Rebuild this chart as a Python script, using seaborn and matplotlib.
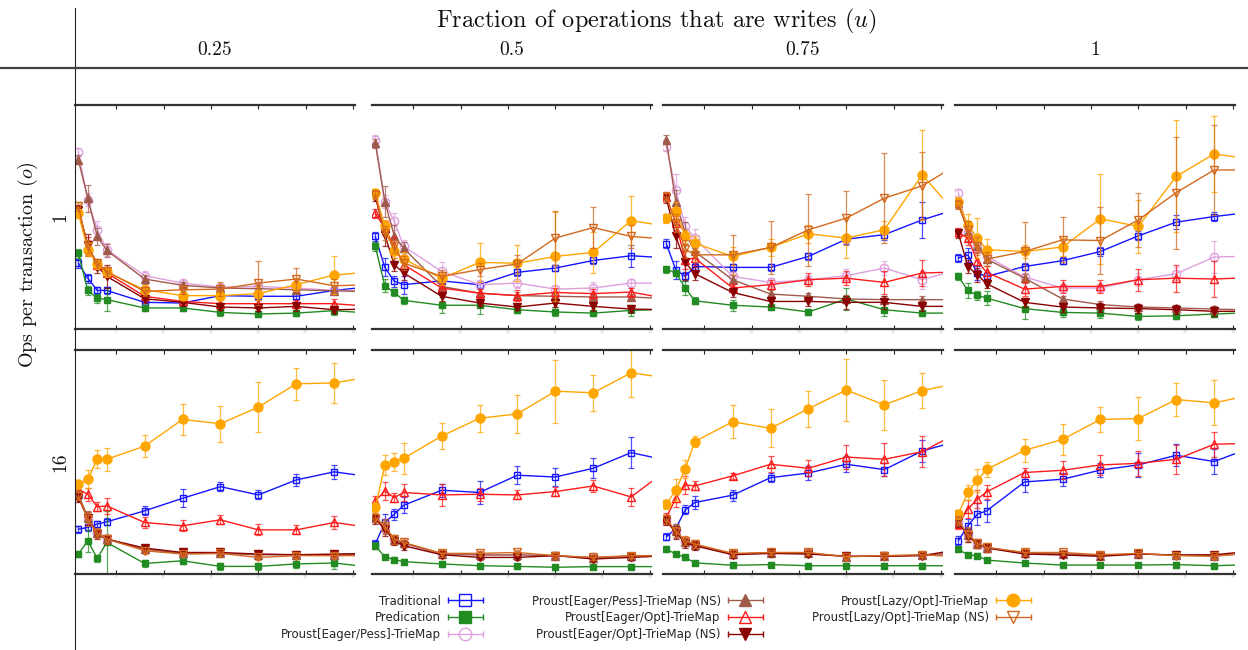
import matplotlib
matplotlib.use('Agg')
import matplotlib.pyplot as plt
import seaborn as sns
from matplotlib.lines import Line2D
from matplotlib.legend_handler import HandlerBase

threads = [1, 2, 3, 4, 8, 12, 16, 20, 24, 28, 32]
write_fracs = ['0.25', '0.5', '0.75', '1']
ops_per_tx = ['1', '16']

labels = ['Traditional', 'Predication', 'Proust[Eager/Pess]-TrieMap',
          'Proust[Eager/Pess]-TrieMap (NS)', 'Proust[Eager/Opt]-TrieMap',
          'Proust[Eager/Opt]-TrieMap (NS)', 'Proust[Lazy/Opt]-TrieMap',
          'Proust[Lazy/Opt]-TrieMap (NS)']
colors = ['#1414ff', '#228b22', '#dda0dd', '#a05a4b', '#ff1a1a', '#8b0000', '#ffa500', '#d2691e']
markers = ['s', 's', 'o', '^', '^', 'v', 'o', 'v']
filled = [False, True, False, True, False, True, True, False]

# one list per panel: o=1 (u=0.25, 0.5, 0.75, 1), then o=16 (same order)
traditional = [
    [29.4, 22.7, 17.2, 17.2, 11.9, 11.6, 14.9, 14.6, 14.6, 17.2, 19.0],
    [41.3, 27.5, 21.3, 19.8, 21.5, 19.8, 25.3, 27.2, 30.6, 32.7, 31.7],
    [38.0, 26.5, 23.5, 27.9, 27.5, 27.5, 32.4, 40.1, 42.1, 48.7, 54.0],
    [31.7, 33.1, 25.0, 23.5, 27.9, 30.5, 34.6, 41.6, 47.7, 50.2, 52.2],
    [20.0, 20.8, 22.3, 23.3, 28.2, 33.8, 39.0, 35.3, 42.0, 45.6, 43.3],
    [13.4, 23.0, 26.7, 30.7, 37.4, 36.4, 44.1, 43.3, 47.2, 54.2, 50.5],
    [16.6, 20.3, 28.6, 31.9, 35.2, 43.0, 45.1, 49.0, 46.6, 54.9, 59.7],
    [14.8, 21.5, 26.7, 28.2, 41.1, 42.3, 46.4, 48.7, 53.0, 50.2, 56.6],
]
predication = [
    [33.9, 17.2, 13.8, 13.1, 9.4, 9.4, 7.4, 6.7, 7.1, 8.2, 7.0],
    [36.9, 19.3, 16.3, 12.8, 10.6, 10.6, 8.6, 7.6, 7.1, 8.3, 8.8],
    [26.7, 25.0, 18.3, 12.6, 10.6, 9.8, 7.6, 13.4, 8.6, 7.1, 7.1],
    [23.5, 17.2, 15.0, 13.8, 9.1, 7.4, 7.1, 5.6, 5.9, 6.7, 7.3],
    [8.9, 14.8, 7.0, 14.1, 4.7, 5.9, 3.4, 3.4, 4.5, 4.9, 3.0],
    [12.6, 7.7, 6.4, 5.5, 4.5, 3.7, 3.4, 3.0, 3.3, 3.3, 3.3],
    [11.1, 8.9, 7.4, 5.0, 3.9, 4.2, 3.7, 3.7, 3.7, 3.7, 3.7],
    [11.1, 8.5, 8.2, 6.2, 4.9, 4.0, 4.0, 4.0, 4.2, 3.7, 4.2],
]
eager_pess = [
    [79.0, 57.7, 44.3, 35.4, 23.8, 20.5, 18.7, 19.0, 18.3, 17.2, 17.2],
    [84.4, 56.9, 48.0, 36.9, 25.7, 19.8, 20.5, 17.8, 18.3, 20.5, 20.5],
    [81.4, 62.1, 45.8, 40.6, 23.5, 20.8, 22.0, 23.8, 27.2, 22.0, 26.8],
    [60.6, 43.5, 36.9, 32.4, 23.2, 18.3, 18.3, 22.0, 24.7, 32.1, 32.6],
    [35.0, 25.0, 18.3, 15.5, 11.0, 9.2, 9.2, 8.8, 8.6, 8.6, 8.6],
    [25.0, 20.5, 15.2, 13.5, 9.0, 8.5, 8.5, 8.0, 7.5, 7.8, 8.0],
    [24.0, 19.0, 14.3, 13.0, 9.0, 9.2, 9.2, 8.0, 8.0, 8.4, 9.0],
    [23.3, 17.5, 13.6, 11.8, 9.3, 9.0, 8.3, 9.0, 8.4, 8.2, 9.2],
]
eager_pess_ns = [
    [75.5, 58.4, 41.3, 35.1, 22.3, 19.5, 18.3, 18.0, 17.5, 17.1, 16.5],
    [82.9, 56.9, 41.6, 36.0, 19.0, 16.0, 14.9, 14.6, 14.3, 14.3, 13.5],
    [84.4, 56.9, 42.8, 34.6, 22.0, 15.6, 14.6, 13.4, 13.1, 13.1, 13.1],
    [56.2, 43.5, 36.9, 31.2, 22.7, 13.4, 10.9, 9.8, 9.4, 8.9, 8.5],
    [35.6, 25.2, 18.5, 15.6, 11.1, 9.2, 9.2, 8.6, 8.6, 8.6, 8.6],
    [25.0, 21.0, 15.2, 13.8, 9.0, 8.5, 8.5, 8.2, 7.2, 8.0, 8.2],
    [24.2, 19.0, 14.3, 13.0, 8.9, 9.4, 9.2, 7.8, 8.0, 8.4, 9.5],
    [23.4, 17.5, 13.6, 11.8, 9.4, 9.0, 8.2, 9.0, 8.4, 8.2, 9.3],
]
eager_opt = [
    [53.2, 36.9, 28.7, 25.0, 14.6, 12.3, 11.3, 11.3, 11.3, 11.3, 10.0],
    [51.7, 45.0, 36.9, 28.7, 18.3, 16.0, 14.9, 16.3, 15.8, 16.5, 13.4],
    [59.1, 47.3, 30.9, 31.7, 18.3, 19.8, 22.0, 22.7, 20.8, 25.0, 25.5],
    [43.1, 40.6, 30.2, 25.3, 17.8, 19.0, 19.0, 22.0, 22.7, 22.3, 23.0],
    [37.8, 35.6, 30.0, 30.4, 23.0, 21.5, 24.2, 19.7, 19.7, 23.0, 20.6],
    [32.6, 37.1, 34.1, 36.4, 35.3, 35.6, 35.3, 36.8, 39.3, 34.4, 47.1],
    [25.2, 33.8, 39.8, 39.3, 43.8, 49.0, 47.2, 52.2, 51.2, 54.6, 63.5],
    [22.3, 28.9, 33.4, 36.7, 45.3, 46.3, 48.7, 49.4, 51.2, 57.9, 58.4],
]
eager_opt_ns = [
    [53.2, 37.6, 27.9, 23.5, 13.5, 11.9, 9.8, 9.4, 10.1, 8.6, 8.9],
    [59.1, 42.1, 28.7, 25.0, 14.6, 11.6, 9.8, 11.6, 10.1, 8.9, 8.6],
    [58.4, 41.3, 29.7, 24.7, 16.3, 12.3, 12.3, 11.9, 11.9, 10.1, 10.1],
    [42.8, 27.9, 24.2, 20.2, 11.9, 9.8, 9.4, 9.1, 8.6, 7.9, 7.9],
    [34.1, 24.9, 17.8, 15.6, 11.6, 9.6, 9.6, 8.9, 8.6, 8.9, 9.2],
    [24.5, 20.0, 14.8, 12.6, 8.6, 7.4, 7.4, 8.2, 6.7, 7.4, 8.2],
    [23.7, 18.5, 13.8, 12.6, 8.6, 9.2, 8.9, 7.9, 7.9, 8.2, 11.0],
    [23.0, 17.1, 13.4, 11.6, 8.9, 8.5, 7.9, 8.9, 8.5, 8.6, 10.2],
]
lazy_opt = [
    [51.7, 35.4, 29.0, 25.3, 17.5, 14.9, 14.9, 15.8, 19.8, 24.1, 25.5],
    [60.6, 45.8, 34.6, 31.2, 22.6, 29.7, 29.4, 32.4, 34.2, 48.4, 45.7],
    [49.5, 52.5, 41.3, 38.3, 32.4, 36.4, 42.5, 40.6, 44.3, 68.8, 49.6],
    [56.9, 46.5, 40.6, 35.4, 34.6, 36.6, 49.2, 45.8, 68.1, 78.2, 75.8],
    [40.1, 42.3, 51.2, 51.2, 57.1, 69.0, 67.1, 74.5, 84.9, 85.3, 88.2],
    [29.7, 48.5, 50.2, 51.6, 61.6, 69.5, 71.5, 81.6, 80.9, 89.8, 87.4],
    [31.2, 37.4, 47.0, 59.1, 68.0, 65.0, 73.8, 82.1, 75.5, 81.9, 85.3],
    [26.7, 36.4, 41.8, 46.7, 55.2, 60.1, 69.0, 69.4, 77.9, 76.4, 80.0],
]
lazy_opt_ns = [
    [54.7, 36.9, 29.4, 25.7, 16.8, 17.5, 17.8, 20.5, 22.3, 19.3, 19.8],
    [59.9, 42.8, 36.9, 29.4, 23.5, 26.5, 29.1, 40.6, 45.3, 41.3, 40.1],
    [59.1, 47.3, 35.7, 33.1, 33.1, 36.4, 44.3, 49.5, 58.4, 63.9, 74.2],
    [55.4, 44.3, 36.9, 31.2, 34.6, 39.8, 39.5, 48.7, 60.9, 71.0, 71.0],
    [34.9, 24.5, 18.1, 15.6, 10.4, 8.9, 9.2, 7.4, 8.2, 8.2, 8.2],
    [25.2, 21.5, 15.6, 14.1, 9.2, 9.2, 9.6, 8.2, 7.4, 8.2, 8.2],
    [24.5, 19.3, 14.8, 13.4, 9.2, 9.6, 9.6, 7.7, 8.2, 8.6, 7.7],
    [23.7, 17.8, 13.7, 11.9, 9.6, 9.6, 8.6, 9.2, 8.2, 7.9, 9.5],
]

# error bar half-widths, same layout
traditional_err = [
    [2, 2, 1.5, 1.5, 1, 1, 1.5, 1.5, 1.5, 1.5, 1.5],
    [2, 4, 2.5, 4, 1.5, 1.5, 1.5, 1.5, 1.5, 5, 2],
    [2, 4, 2, 1.5, 1.5, 1.5, 1.5, 2, 2.5, 8, 3],
    [2, 3, 3, 2, 1.5, 1.5, 2, 2, 3, 2, 2],
    [1.5, 1.5, 1.5, 1.5, 2, 4, 2, 2, 2.5, 3, 2],
    [2, 4, 2.5, 3.5, 3, 5, 4, 4, 4.5, 7, 3],
    [1.5, 2, 2, 3, 2.5, 2, 3, 3.5, 3, 5, 3],
    [2, 3, 5, 5, 4.5, 3, 3, 5.5, 5, 5.5, 3],
]
predication_err = [
    [2, 2, 2, 5, 1.5, 1.5, 1.5, 1.5, 1.5, 2, 1.5],
    [2, 3, 1.5, 1.5, 3.5, 4, 1.5, 2, 1.5, 2.5, 1.5],
    [1.5, 1.5, 3, 1.5, 2.5, 1.5, 1.5, 5, 3, 1.5, 1.5],
    [1.5, 3.5, 2, 3, 4.5, 2, 2, 1.5, 1.5, 1.5, 1.5],
    [1.5, 5, 1.5, 14, 1.5, 1.5, 1.5, 1.5, 2, 2.5, 1.5],
    [1.5, 1, 1, 1, 1.5, 1, 1, 1, 1, 1, 1],
    [1.5, 1, 1, 1, 1, 1, 1, 1, 1, 1, 1],
    [1.5, 1, 1, 1, 1, 1, 1, 1, 1, 1, 1],
]
eager_pess_err = [
    [2, 3, 4, 3, 2, 1.5, 1.5, 1.5, 1.5, 1.5, 1.5],
    [2, 3, 4, 3, 4, 2, 2, 1.5, 2.5, 2, 2],
    [2, 7, 4, 4, 2, 2, 2, 3, 3, 4, 3],
    [2, 3, 2, 2, 2, 2, 2, 3, 3, 7, 3],
    [1.5, 1.5, 1, 1, 1, 1, 1, 1, 1, 1, 1],
    [1.5, 1.5, 1, 1, 1, 1, 1, 1, 1, 1, 1],
    [1.5, 1.5, 1, 1, 1, 1, 1, 1, 1, 1, 1],
    [1.5, 1.5, 1, 1, 1, 1, 1, 1, 1, 1, 1],
]
eager_pess_ns_err = [
    [2, 6, 4, 3, 2, 1.5, 1.5, 1.5, 1.5, 1.5, 1.5],
    [2, 7, 5, 3, 2, 2, 1.5, 1.5, 1.5, 1.5, 1.5],
    [2, 5, 5, 3, 2, 2, 1.5, 2, 1.5, 1.5, 1.5],
    [2, 4, 3, 3, 2, 1.5, 1.5, 1.5, 1.5, 1.5, 1.5],
    [2, 3, 2, 1.5, 1.5, 1, 1, 1, 1, 1, 1],
    [2, 3, 2, 1.5, 1.5, 1, 1, 1, 1, 1, 1],
    [2, 3, 2, 1.5, 1.5, 1, 1, 1, 1, 1, 1],
    [2, 3, 2, 1.5, 1.5, 1, 1, 1, 1, 1, 1],
]
eager_opt_err = [
    [2, 4, 2, 2, 1.5, 1.5, 1.5, 1.5, 1.5, 2, 1.5],
    [2, 3, 4, 2, 2, 2, 2.5, 2, 2, 2, 2],
    [2, 3, 4, 3, 2, 2, 3, 3, 5, 6, 3],
    [2, 3, 4, 3, 3, 3, 3, 5, 6, 8, 3],
    [2, 3, 2, 3.5, 2.5, 2.5, 2, 2.5, 2, 3, 2],
    [2, 4, 2, 4, 5, 3, 2, 2, 2.5, 4, 3],
    [2, 4, 4, 2, 1.5, 3.5, 3.5, 5.5, 7.5, 7, 4],
    [2, 4, 4, 3, 2, 4, 4.5, 5.5, 6.5, 5.5, 4],
]
eager_opt_ns_err = [
    [2, 5, 3, 5, 2, 1.5, 1.5, 1.5, 2, 1.5, 1.5],
    [2, 5, 3, 3, 2, 1.5, 1.5, 2, 2, 1.5, 1.5],
    [2, 5, 8, 3, 2, 2, 2, 3, 3, 2, 2],
    [2, 3, 3, 2, 2, 2, 2, 2, 2, 2, 2],
    [2, 3, 2, 2, 1.5, 1, 1, 1, 1, 1, 1],
    [2, 3, 2, 2, 1.5, 1, 1, 1, 1, 1, 1],
    [2, 3, 2, 2, 1.5, 1, 1, 1, 1, 1, 1],
    [2, 3, 2, 2, 1.5, 1, 1, 1, 1, 1, 1],
]
lazy_opt_err = [
    [2, 3, 2, 2, 2, 2, 2, 3, 3, 8.5, 3],
    [2, 3, 3, 3, 3, 8.5, 8, 20, 9, 11, 4],
    [2, 4, 3, 3, 4, 4, 4, 9, 4, 20, 5],
    [2, 5, 9, 5, 3, 4, 20, 12, 25, 17, 5],
    [2, 4, 4, 5, 5, 7, 8, 11, 7, 9, 5],
    [2, 4.5, 4, 7, 6, 6, 8.5, 14, 8, 11, 5],
    [2, 5, 4, 2.5, 7.5, 8.5, 8, 14, 11, 8, 5],
    [2, 3.5, 5, 3.5, 5, 7, 5.5, 9.5, 7.5, 10, 5],
]
lazy_opt_ns_err = [
    [2, 3, 2, 2, 2, 2, 3, 10, 5, 3, 2],
    [2, 3, 3, 3, 3, 3, 4, 12, 9, 5, 3],
    [2, 4, 4, 3, 9, 12, 16, 12, 20, 15, 6],
    [2, 4, 4, 3, 13, 10, 15, 12, 25, 20, 6],
    [2, 3, 2, 2, 1.5, 1, 1, 1, 1, 1, 1],
    [2, 3, 2, 2, 1.5, 1, 1, 1, 1, 1, 1],
    [2, 3, 2, 2, 1.5, 1, 1, 1, 1, 1, 1],
    [2, 3, 2, 2, 1.5, 1, 1, 1, 1, 1, 1],
]

series = [traditional, predication, eager_pess, eager_pess_ns,
          eager_opt, eager_opt_ns, lazy_opt, lazy_opt_ns]
series_err = [traditional_err, predication_err, eager_pess_err, eager_pess_ns_err,
              eager_opt_err, eager_opt_ns_err, lazy_opt_err, lazy_opt_ns_err]
marker_size = [5, 5, 6, 6, 6, 6, 6.5, 6]


class KeyHandler(HandlerBase):
    # gnuplot style key: horizontal bar with end caps and the point in the middle
    def create_artists(self, legend, orig, xdescent, ydescent, width, height, fontsize, trans):
        y = height / 2 - ydescent
        x0, x1 = -xdescent, width - xdescent
        col = orig.get_color()
        bar = Line2D([x0, x1], [y, y], color=col, lw=1)
        caps = Line2D([x0, x1], [y, y], ls='none', marker='|', ms=5, mew=1, color=col)
        point = Line2D([(x0 + x1) / 2], [y], ls='none', marker=orig.get_marker(),
                       ms=orig.get_markersize(), mfc=orig.get_markerfacecolor(),
                       mec=col, mew=1)
        for a in (bar, caps, point):
            a.set_transform(trans)
        return [bar, caps, point]


sns.set_theme(style='white')
plt.rcParams['font.family'] = ['DejaVu Sans']
plt.rcParams['mathtext.fontset'] = 'cm'

W, H = 1248, 650
fig = plt.figure(figsize=(W / 100, H / 100), dpi=100)

col_left = [75, 372, 663, 955]
row_top = [105, 350]
pw, ph = 280, 224

for r in range(2):
    for c in range(4):
        k = r * 4 + c
        ax = fig.add_axes([col_left[c] / W, 1 - (row_top[r] + ph) / H, pw / W, ph / H])
        for vals, errs, col, mk, fill, ms in zip(series, series_err, colors, markers, filled, marker_size):
            ax.errorbar(threads, vals[k], yerr=errs[k], fmt='none', ecolor=col,
                        elinewidth=0.9, capsize=2, capthick=0.9, alpha=0.75)
            sns.lineplot(x=threads, y=vals[k], ax=ax, color=col, lw=1, marker=mk,
                         markersize=ms, markerfacecolor=col if fill else 'none',
                         markeredgecolor=col, markeredgewidth=1)
        ax.set_xlim(0.65, 30.2)
        ax.set_ylim(0, 100)
        ax.set_xticks([5, 10, 15, 20, 25, 30])
        ax.set_yticks([])
        ax.set_xlabel('')
        ax.set_ylabel('')
        ax.tick_params(axis='x', direction='in', top=True, bottom=True, length=3,
                       width=0.8, color='#222222', labelsize=3, labelcolor='#c8c8c8', pad=1)
        for s in ['left', 'right']:
            ax.spines[s].set_visible(False)
        for s in ['top', 'bottom']:
            ax.spines[s].set_linewidth(1.6)
            ax.spines[s].set_color('#333333')

# table rules
fig.add_artist(Line2D([75 / W, 75 / W], [0, 1 - 8 / H], transform=fig.transFigure, color='#222222', lw=0.8))
fig.add_artist(Line2D([0, 1], [1 - 67.5 / H] * 2, transform=fig.transFigure, color='#444444', lw=1.6))

fig.text(656 / W, 1 - 21 / H, 'Fraction of operations that are writes ($u$)', ha='center', va='center',
         fontsize=17.5, family='cmr10', color='#111111')
for c, lab in enumerate(write_fracs):
    fig.text((col_left[c] + pw / 2) / W, 1 - 50 / H, lab, ha='center', va='center',
             fontsize=14, family='cmr10', color='#111111')
fig.text(28 / W, 1 - 265 / H, 'Ops per transaction ($o$)', rotation=90, ha='center', va='center',
         fontsize=14.5, family='cmr10', color='#111111')
for r, lab in enumerate(ops_per_tx):
    fig.text(60 / W, 1 - (row_top[r] + ph / 2) / H, lab, rotation=90, ha='center', va='center',
             fontsize=14, family='cmr10', color='#111111')

handles = [Line2D([], [], color=col, marker=mk, ms=9, mfc=col if fill else 'none')
           for col, mk, fill in zip(colors, markers, filled)]
fig.legend(handles, labels, ncol=3, markerfirst=False, frameon=False, fontsize=8.5,
           handlelength=3.0, handletextpad=0.6, columnspacing=4.1, labelspacing=0.3,
           loc='upper left', bbox_to_anchor=(270 / W, 1 - 584 / H),
           handler_map={Line2D: KeyHandler()})

fig.savefig('out.png', dpi=100)
